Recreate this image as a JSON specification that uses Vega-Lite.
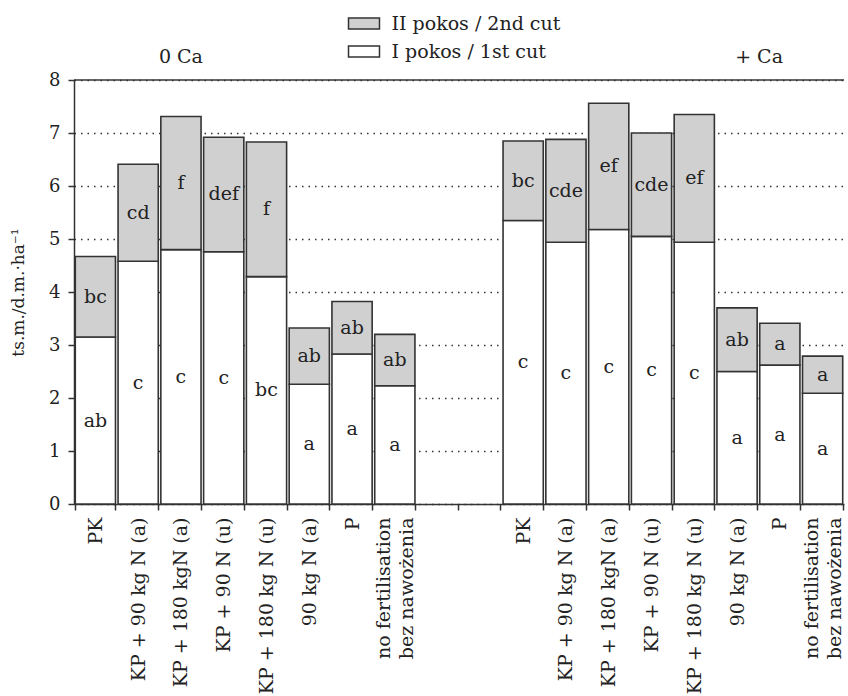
{
  "$schema": "https://vega.github.io/schema/vega-lite/v6.json",
  "width": 770,
  "height": 424,
  "autosize": "none",
  "padding": {"left": 74, "top": 80, "right": 4, "bottom": 192},
  "config": {
    "font": "DejaVu Serif",
    "view": {"stroke": null},
    "axis": {"labelColor": "#222", "titleColor": "#222"}
  },
  "layer": [
    {
      "data": {
        "values": [
          {"slot": "PK#0", "cut": "I pokos / 1st cut", "value": 3.15, "letter": "ab"},
          {"slot": "PK#0", "cut": "II pokos / 2nd cut", "value": 1.52, "letter": "bc"},
          {"slot": "KP + 90 kg N (a)#0", "cut": "I pokos / 1st cut", "value": 4.58, "letter": "c"},
          {"slot": "KP + 90 kg N (a)#0", "cut": "II pokos / 2nd cut", "value": 1.83, "letter": "cd"},
          {"slot": "KP + 180 kgN (a)#0", "cut": "I pokos / 1st cut", "value": 4.8, "letter": "c"},
          {"slot": "KP + 180 kgN (a)#0", "cut": "II pokos / 2nd cut", "value": 2.51, "letter": "f"},
          {"slot": "KP + 90 N (u)#0", "cut": "I pokos / 1st cut", "value": 4.76, "letter": "c"},
          {"slot": "KP + 90 N (u)#0", "cut": "II pokos / 2nd cut", "value": 2.16, "letter": "def"},
          {"slot": "KP + 180 kg N (u)#0", "cut": "I pokos / 1st cut", "value": 4.29, "letter": "bc"},
          {"slot": "KP + 180 kg N (u)#0", "cut": "II pokos / 2nd cut", "value": 2.54, "letter": "f"},
          {"slot": "90 kg N (a)#0", "cut": "I pokos / 1st cut", "value": 2.26, "letter": "a"},
          {"slot": "90 kg N (a)#0", "cut": "II pokos / 2nd cut", "value": 1.06, "letter": "ab"},
          {"slot": "P#0", "cut": "I pokos / 1st cut", "value": 2.83, "letter": "a"},
          {"slot": "P#0", "cut": "II pokos / 2nd cut", "value": 0.99, "letter": "ab"},
          {"slot": "no fertilisation~bez nawożenia#0", "cut": "I pokos / 1st cut", "value": 2.23, "letter": "a"},
          {"slot": "no fertilisation~bez nawożenia#0", "cut": "II pokos / 2nd cut", "value": 0.97, "letter": "ab"},
          {"slot": "PK#1", "cut": "I pokos / 1st cut", "value": 5.35, "letter": "c"},
          {"slot": "PK#1", "cut": "II pokos / 2nd cut", "value": 1.5, "letter": "bc"},
          {"slot": "KP + 90 kg N (a)#1", "cut": "I pokos / 1st cut", "value": 4.94, "letter": "c"},
          {"slot": "KP + 90 kg N (a)#1", "cut": "II pokos / 2nd cut", "value": 1.94, "letter": "cde"},
          {"slot": "KP + 180 kgN (a)#1", "cut": "I pokos / 1st cut", "value": 5.18, "letter": "c"},
          {"slot": "KP + 180 kgN (a)#1", "cut": "II pokos / 2nd cut", "value": 2.38, "letter": "ef"},
          {"slot": "KP + 90 N (u)#1", "cut": "I pokos / 1st cut", "value": 5.05, "letter": "c"},
          {"slot": "KP + 90 N (u)#1", "cut": "II pokos / 2nd cut", "value": 1.95, "letter": "cde"},
          {"slot": "KP + 180 kg N (u)#1", "cut": "I pokos / 1st cut", "value": 4.94, "letter": "c"},
          {"slot": "KP + 180 kg N (u)#1", "cut": "II pokos / 2nd cut", "value": 2.41, "letter": "ef"},
          {"slot": "90 kg N (a)#1", "cut": "I pokos / 1st cut", "value": 2.5, "letter": "a"},
          {"slot": "90 kg N (a)#1", "cut": "II pokos / 2nd cut", "value": 1.2, "letter": "ab"},
          {"slot": "P#1", "cut": "I pokos / 1st cut", "value": 2.62, "letter": "a"},
          {"slot": "P#1", "cut": "II pokos / 2nd cut", "value": 0.79, "letter": "a"},
          {"slot": "no fertilisation~bez nawożenia#1", "cut": "I pokos / 1st cut", "value": 2.09, "letter": "a"},
          {"slot": "no fertilisation~bez nawożenia#1", "cut": "II pokos / 2nd cut", "value": 0.7, "letter": "a"}
        ]
      },
      "transform": [
        {"stack": "value", "groupby": ["slot"], "sort": [{"field": "cut", "order": "ascending"}], "as": ["v0", "v1"]},
        {"calculate": "(datum.v0 + datum.v1) / 2", "as": "mid"}
      ],
      "encoding": {
        "x": {
          "field": "slot",
          "type": "nominal",
          "scale": {
            "domain": ["PK#0", "KP + 90 kg N (a)#0", "KP + 180 kgN (a)#0", "KP + 90 N (u)#0", "KP + 180 kg N (u)#0", "90 kg N (a)#0", "P#0", "no fertilisation~bez nawożenia#0", "_1", "_2", "PK#1", "KP + 90 kg N (a)#1", "KP + 180 kgN (a)#1", "KP + 90 N (u)#1", "KP + 180 kg N (u)#1", "90 kg N (a)#1", "P#1", "no fertilisation~bez nawożenia#1"],
            "paddingInner": 0.06,
            "paddingOuter": 0.03
          },
          "axis": {
            "title": null,
            "tickBand": "extent",
            "labelAngle": -90,
            "labelFontSize": 19,
            "labelLineHeight": 23,
            "labelPadding": 7,
            "labelLimit": 300,
            "labelOffset": {"condition": {"test": "isString(datum.value) && indexof(datum.value, '~') >= 0", "value": -11}, "value": 0},
            "labelExpr": "isString(datum.value) ? (indexof(datum.value, '#') < 0 ? '' : split(split(datum.value, '#')[0], '~')) : ''",
            "tickSize": 6,
            "tickColor": "#333",
            "tickWidth": 1.5,
            "domainColor": "#333",
            "domainWidth": 1.5,
            "grid": false
          }
        }
      },
      "layer": [
        {
          "mark": {"type": "bar", "stroke": "#333", "strokeWidth": 1.6},
          "encoding": {
            "y": {
              "field": "v0",
              "type": "quantitative",
              "scale": {"domain": [0, 8]},
              "axis": {
                "title": "ts.m./d.m.·ha⁻¹",
                "titleFontSize": 17,
                "titleFontWeight": "normal",
                "titlePadding": 21,
                "values": [0, 1, 2, 3, 4, 5, 6, 7, 8],
                "labelFontSize": 18,
                "labelPadding": 8,
                "tickSize": 6,
                "tickColor": "#333",
                "tickWidth": 1.5,
                "domainColor": "#333",
                "domainWidth": 1.5,
                "grid": true,
                "gridDash": [1.5, 5],
                "gridColor": "#333",
                "gridWidth": 1.3
              }
            },
            "y2": {"field": "v1"},
            "fill": {
              "field": "cut",
              "type": "nominal",
              "scale": {"domain": ["II pokos / 2nd cut", "I pokos / 1st cut"], "range": ["#d0d0d0", "#ffffff"]},
              "legend": {
                "title": null,
                "orient": "none",
                "legendX": 280.5,
                "legendY": -66,
                "padding": 0,
                "labelFontSize": 19,
                "labelLimit": 400,
                "labelColor": "#222",
                "symbolType": "M-2,-0.7H2V0.7H-2Z",
                "symbolSize": 240,
                "symbolStrokeColor": "#333",
                "symbolStrokeWidth": 1.5,
                "rowPadding": 8,
                "labelOffset": 18
              }
            }
          }
        },
        {
          "mark": {"type": "text", "fontSize": 19, "color": "#222"},
          "encoding": {
            "y": {"field": "mid", "type": "quantitative"},
            "text": {"field": "letter"}
          }
        }
      ]
    },
    {
      "data": {"values": [{"top": 8}]},
      "mark": {"type": "rule", "stroke": "#333", "strokeWidth": 1.5},
      "encoding": {"y": {"field": "top", "type": "quantitative"}}
    },
    {
      "data": {"values": [{"group": "0 Ca", "slot": "KP + 180 kgN (a)#0", "top": 8}]},
      "mark": {"type": "text", "fontSize": 19, "color": "#222", "dy": -23, "baseline": "middle"},
      "encoding": {
        "x": {"field": "slot", "type": "nominal"},
        "y": {"field": "top", "type": "quantitative"},
        "text": {"field": "group"}
      }
    },
    {
      "data": {"values": [{"group": "+ Ca", "slot": "90 kg N (a)#1", "top": 8}]},
      "mark": {"type": "text", "fontSize": 19, "color": "#222", "dy": -23, "dx": 22, "baseline": "middle"},
      "encoding": {
        "x": {"field": "slot", "type": "nominal"},
        "y": {"field": "top", "type": "quantitative"},
        "text": {"field": "group"}
      }
    }
  ]
}
